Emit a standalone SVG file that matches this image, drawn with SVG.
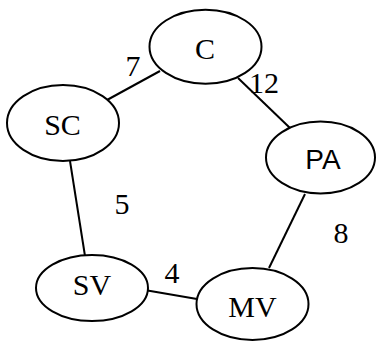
<svg xmlns="http://www.w3.org/2000/svg" width="376" height="341" viewBox="0 0 376 341">
  <style>
    .node ellipse { fill: #ffffff; stroke: #000000; stroke-width: 2; }
    .edges line { stroke: #000000; stroke-width: 2; }
    .lbl { font-family: "Liberation Serif", "Times New Roman", serif; font-size: 30px; fill: #000000; text-anchor: middle; }
    .sans { font-family: "Liberation Sans", Arial, sans-serif; font-size: 28px; }
  </style>
  <rect width="376" height="341" fill="#ffffff"/>
  <!-- connectors -->
  <g id="edges" class="edges">
    <line x1="160" y1="71" x2="107" y2="100"/>
    <line x1="238" y1="78" x2="290" y2="128"/>
    <line x1="305" y1="194" x2="269" y2="268"/>
    <line x1="70" y1="161" x2="85" y2="256"/>
    <line x1="147.5" y1="290.5" x2="197" y2="299"/>
  </g>
  <!-- edge weights -->
  <g id="weights">
    <text class="lbl" x="133" y="76">7</text>
    <text class="lbl" x="264" y="93">12</text>
    <text class="lbl" x="122" y="214">5</text>
    <text class="lbl" x="341" y="243">8</text>
    <text class="lbl" x="172" y="283">4</text>
  </g>
  <g id="node-C" class="node">
    <ellipse cx="205.5" cy="46.7" rx="56" ry="37"/>
    <text class="lbl" x="205" y="59">C</text>
  </g>
  <g id="node-SC" class="node">
    <ellipse cx="63" cy="123" rx="56" ry="38"/>
    <text class="lbl" x="62.5" y="135">SC</text>
  </g>
  <g id="node-PA" class="node">
    <ellipse cx="320.5" cy="157.5" rx="54.5" ry="36"/>
    <text class="lbl sans" x="323" y="169">PA</text>
  </g>
  <g id="node-SV" class="node">
    <ellipse cx="92" cy="288" rx="56" ry="33"/>
    <text class="lbl" x="92" y="295">SV</text>
  </g>
  <g id="node-MV" class="node">
    <ellipse cx="252.5" cy="304" rx="56" ry="36"/>
    <text class="lbl" x="252.5" y="317">MV</text>
  </g>
</svg>
